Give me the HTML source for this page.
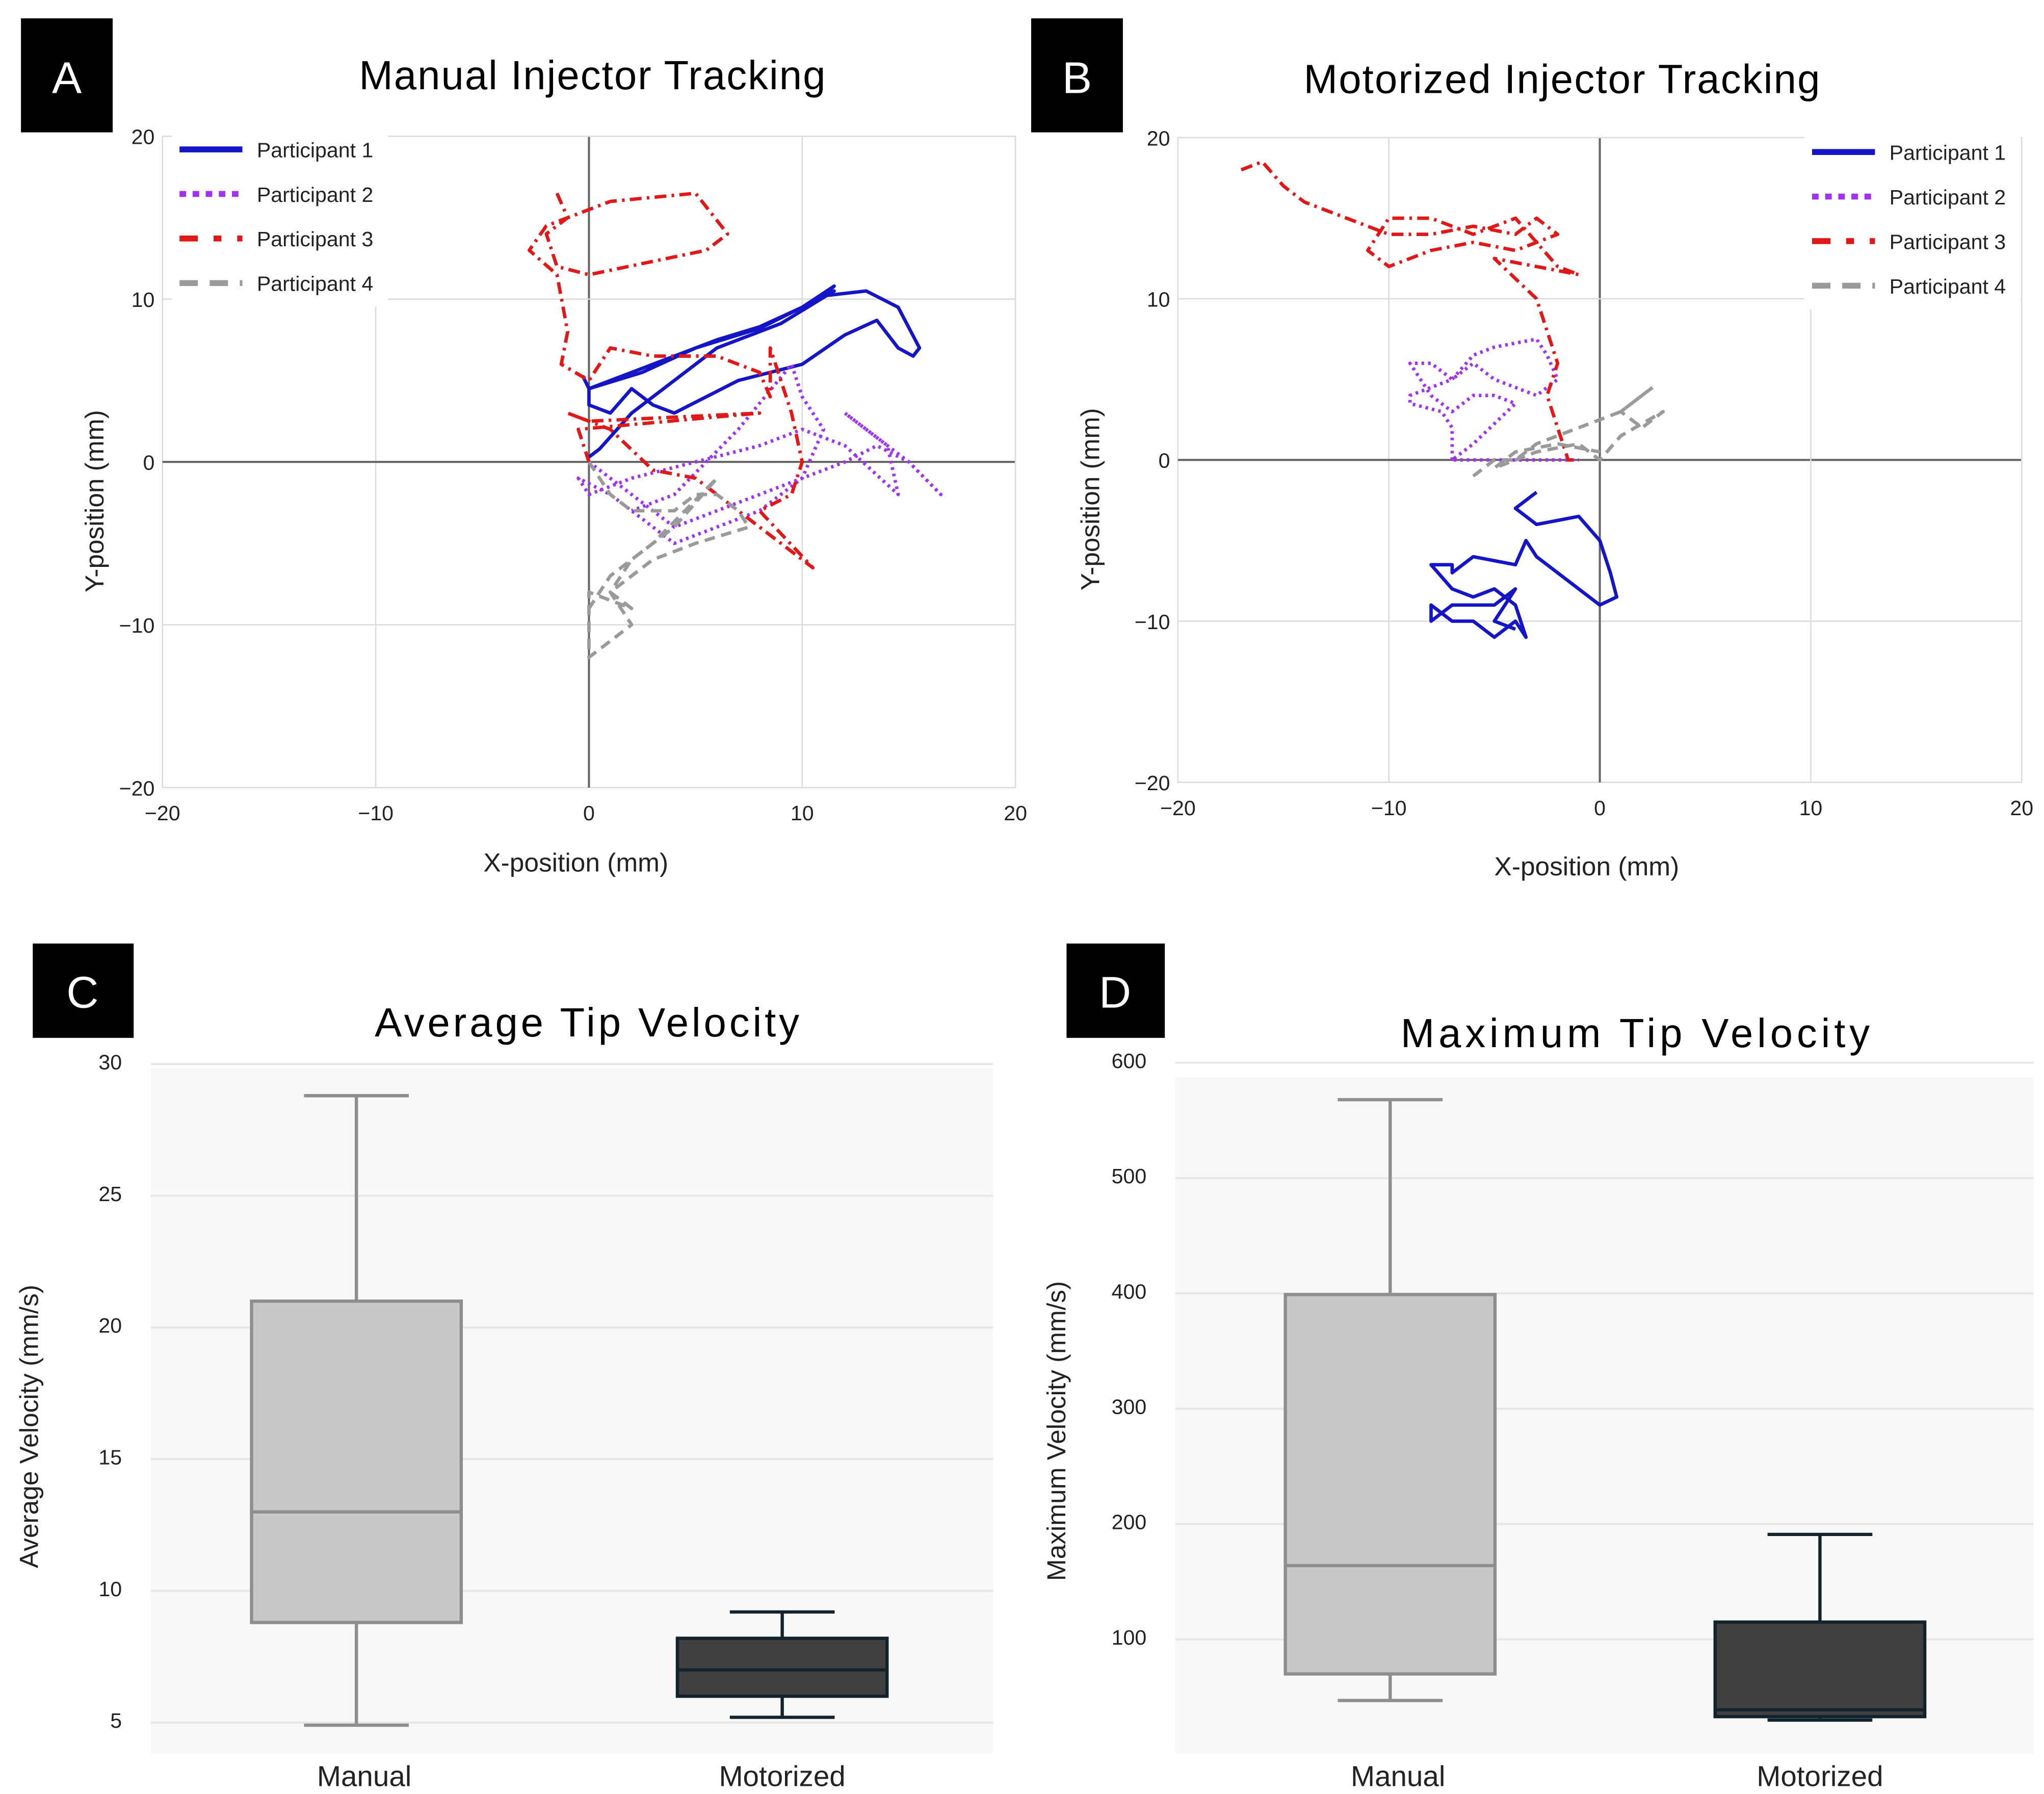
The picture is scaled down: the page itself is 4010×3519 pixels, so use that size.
<!DOCTYPE html>
<html><head><meta charset="utf-8"><style>
html,body{margin:0;padding:0;background:#fff}
svg{display:block}
text{font-family:"Liberation Sans",sans-serif}
</style></head><body>
<svg id="fig" width="4010" height="3519" viewBox="0 0 1560 1369" xmlns="http://www.w3.org/2000/svg">
<rect x="0" y="0" width="1560" height="1369" fill="#fff"/>
<!-- Panel labels -->
<g><rect x="16" y="14" width="70" height="87" fill="#000"/><text x="51" y="71" font-size="34" fill="#fff" text-anchor="middle">A</text></g>
<g><rect x="787" y="14" width="70" height="87" fill="#000"/><text x="822" y="71" font-size="34" fill="#fff" text-anchor="middle">B</text></g>
<g><rect x="25" y="720" width="77" height="72" fill="#000"/><text x="63" y="769" font-size="34" fill="#fff" text-anchor="middle">C</text></g>
<g><rect x="814" y="720" width="75" height="72" fill="#000"/><text x="851" y="769" font-size="34" fill="#fff" text-anchor="middle">D</text></g>
<text x="452" y="68" font-size="31" text-anchor="middle" textLength="356">Manual Injector Tracking</text>
<text x="1192" y="71" font-size="31" text-anchor="middle" textLength="394">Motorized Injector Tracking</text>
<text x="448" y="791" font-size="31" text-anchor="middle" textLength="324">Average Tip Velocity</text>
<text x="1248" y="799" font-size="31" text-anchor="middle" textLength="358">Maximum Tip Velocity</text>
<g id="A"></g><g id="B"></g><g id="C"></g><g id="D"></g>
</svg>
<script>
// ---- Trajectory data (mm) ----
const ticksXY = [-20,-10,0,10,20];
const legendLabels = ["Participant 1","Participant 2","Participant 3","Participant 4"];
const A_p1 = [[-0.3,5.3],[0,4.5],[2.5,5.5],[5,7],[8,8.2],[10,9.5],[11.5,10.8],[11,10.2],[13,10.5],[14.5,9.5],[15.5,7],[15.2,6.5],[14.5,7],[13.5,8.7],[12,7.8],[10,6],[7,5],[4,3],[3,3.5],[2,4.5],[1,3],[0,3.5],[0,4.5],[3,6],[6,7.5],[8,8.3],[10,9.5],[11.5,10.5],[9,8.5],[6,7],[4,5],[2,3],[0.5,0.8],[0,0.3]];
const A_p2 = [[0,0],[1,-1],[2,-2],[3,-3],[4,-4],[6,-3],[8,-2],[10,-1],[12,0],[13.5,1],[15,0],[16.5,-2],[15,0],[13,2],[12,3],[14,1],[14.5,-2],[12,1],[10,2],[8,1],[5,0],[2,-1],[0,-2],[-0.5,-1],[1,-2],[4,-5],[8,-3],[10,-1],[11,2],[10,4],[9.5,6],[7,2],[4,-2],[2,-3]];
const A_p3 = [[-1.5,16.5],[-1,15],[-2,14],[-1.5,12],[0,11.5],[5.5,13],[6.5,14],[5,16.5],[1,16],[-2,14.5],[-2.8,13],[-1.5,11.5],[-1,8],[-1.3,6],[0,5],[1,7],[3,6.5],[6,6.5],[8,5.5],[8.5,4],[8.5,7],[9.5,3],[10,0],[9.5,-2],[8,-3],[10.5,-6.5],[5,-1],[3,-0.5],[1,2],[-1,3],[0,2.5],[8,3],[-0.5,2],[0,0]];
const A_p4 = [[0,0],[1,-2],[2,-3],[4,-3],[5,-2],[6,-2],[7,-3],[7.5,-4],[5,-5],[3,-6],[2,-7],[1,-8],[2,-9],[0,-8],[0,-10],[0,-12],[1,-11],[2,-10],[1,-8],[2,-6],[4,-4],[6,-1],[3,-5],[1,-7],[0,-9]];
const B_p1 = [[-3,-2],[-4,-3],[-3,-4],[-1,-3.5],[0,-5],[0.5,-7],[0.8,-8.5],[0,-9],[-1,-8],[-2,-7],[-3,-6],[-3.5,-5],[-4,-6.5],[-6,-6],[-7,-7],[-7,-6.5],[-8,-6.5],[-7,-8],[-6,-8.5],[-5,-8],[-4,-9],[-3.5,-11],[-4,-10],[-5,-11],[-6,-10],[-7,-10],[-8,-9],[-8,-10],[-7,-9],[-5,-9],[-4,-8],[-5,-10],[-4,-10.5]];
const B_p2 = [[-7,0],[-7,2],[-7.5,3],[-9,3.5],[-9,4],[-8,4.5],[-7,5],[-6,6.5],[-5,7],[-3,7.5],[-2.5,6.5],[-2,5],[-3,4],[-5,5],[-6,6],[-7,5],[-8,6],[-9,6],[-8,4],[-7,3],[-6,4],[-5,4],[-4,3.5],[-6,1],[-7,0],[-5,0],[-3,0],[-1,0]];
const B_p3 = [[-17,18],[-16,18.5],[-15,17],[-14,16],[-12,15],[-10,14],[-8,14],[-6,14.5],[-4,14],[-3,15],[-2,14],[-4,13],[-6,13.5],[-8,13],[-10,12],[-11,13],[-10,15],[-8,15],[-6,14],[-4,15],[-2,12],[-1,11.5],[-3,12],[-5,12.5],[-3,10],[-2.5,8],[-2,6],[-2.5,4],[-2,2],[-1.5,0],[-1,0]];
const B_p4 = [[-6,-1],[-5,0],[-4,0],[-3,1],[-2,1.5],[-1,2],[0,2.5],[1,3],[2,4],[2.5,4.5],[1,3],[2,2],[3,3],[1,1.5],[0,0],[-1,1],[-3,0.5],[-5,-0.5],[-4,0.5],[-2,1],[0,0.5]];
// ---- Box plot data ----
const boxCats = ["Manual","Motorized"];
const C_min=[4.9,5.2], C_q1=[8.8,6.0], C_med=[13.0,7.0], C_q3=[21.0,8.2], C_max=[28.8,9.2];
const C_ticks=[5,10,15,20,25,30];
const D_min=[47,30], D_q1=[70,33], D_med=[164,39], D_q3=[399,115], D_max=[568,191];
const D_ticks=[100,200,300,400,500,600];

const NS="http://www.w3.org/2000/svg";
function mk(parent,tag,attrs,txt){const e=document.createElementNS(NS,tag);for(const k in attrs)e.setAttribute(k,attrs[k]);if(txt!==undefined)e.textContent=txt;parent.appendChild(e);return e;}
const styles=[{c:"#1515c8",w:2.6,d:""},{c:"#a033f0",w:2.6,d:"2 3"},{c:"#e01818",w:2.6,d:"9 4 2 4"},{c:"#9a9a9a",w:2.6,d:"8 5"}];
const lstyles=[{d:""},{d:"5 5"},{d:"14 12 6 12"},{d:"14 9"}];

function scatterPanel(g,L,R,T,Bt,series,legX,legY,xLabelY,yLabelX,pre){
  const sx=v=>L+(v+20)/40*(R-L), sy=v=>Bt-(v+20)/40*(Bt-T);
  const bg=mk(g,"rect",{x:L,y:T,width:R-L,height:Bt-T,fill:"#fff",stroke:"#e2e2e2","stroke-width":1});
  
  
  ticksXY.forEach(t=>{
    const gx=mk(g,"line",{x1:sx(t),x2:sx(t),y1:T,y2:Bt,stroke:t===0?"#666":"#dcdcdc","stroke-width":t===0?1.6:1});
    
    
    const gy=mk(g,"line",{x1:L,x2:R,y1:sy(t),y2:sy(t),stroke:t===0?"#666":"#dcdcdc","stroke-width":t===0?1.6:1});
    
    
    const lab=t<0?"\u2212"+(-t):String(t);
    const tx=mk(g,"text",{x:sx(t),y:Bt+25,"font-size":16,"text-anchor":"middle",fill:"#222"},lab);
    
    
    const ty=mk(g,"text",{x:L-6,y:sy(t)+6,"font-size":16,"text-anchor":"end",fill:"#222"},lab);
    
    
  });
  series.forEach((s,i)=>{
    const st=styles[i];
    const p=mk(g,"polyline",{points:s.map(q=>sx(q[0])+","+sy(q[1])).join(" "),fill:"none",stroke:st.c,"stroke-width":st.w,"stroke-dasharray":st.d,"stroke-linejoin":"round"});
    
    
  });
  // legend
  const lg=mk(g,"g",{});
  
  
  mk(lg,"rect",{x:legX-6,y:legY-16,width:165,height:136,fill:"#fff"});
  legendLabels.forEach((lab,i)=>{
    const y=legY+i*34;
    const e=mk(lg,"g",{});
    
    
    mk(e,"line",{x1:legX,x2:legX+48,y1:y,y2:y,stroke:styles[i].c,"stroke-width":4.5,"stroke-dasharray":lstyles[i].d});
    mk(e,"text",{x:legX+59,y:y+6,"font-size":16,fill:"#222"},lab);
  });
  const xl=mk(g,"text",{x:(L+R)/2-10,y:xLabelY,"font-size":20,"text-anchor":"middle",fill:"#222"},"X-position (mm)");
  
  
  const yc=(T+Bt)/2+30;
  const yl=mk(g,"text",{x:yLabelX,y:yc,"font-size":20,"text-anchor":"middle",fill:"#222",transform:`rotate(-90 ${yLabelX} ${yc})`},"Y-position (mm)");
  
  
}
scatterPanel(document.getElementById("A"),124,775,104,601,[A_p1,A_p2,A_p3,A_p4],137,114,665,79,"a-");
scatterPanel(document.getElementById("B"),899,1543,105,597,[B_p1,B_p2,B_p3,B_p4],1383,116,668,839,"b-");

function boxPanel(g,L,R,T,Bt,y0,pxPer,vTop,ticks,mins,q1,med,q3,maxs,centers,half,ylabel,ylx,pre){
  const sy=v=>y0-(v-vTop)*pxPer;
  const bg=mk(g,"rect",{x:L,y:T,width:R-L,height:Bt-T,fill:"#f8f8f8"});
  
  
  ticks.forEach(t=>{
    const gl=mk(g,"line",{x1:L,x2:R,y1:sy(t),y2:sy(t),stroke:"#e6e6e6","stroke-width":1.5});
    
    
    const tl=mk(g,"text",{x:L-22,y:sy(t)+4,"font-size":16,"text-anchor":"end",fill:"#222"},String(t));
    
    
  });
  boxCats.forEach((c,i)=>{
    const cx=centers[i];
    const light=i===0;
    const stroke=light?"#8e8e8e":"#13232c", fill=light?"#c8c8c8":"#404040";
    const b=mk(g,"g",{});
    
    
    mk(b,"line",{x1:cx,x2:cx,y1:sy(maxs[i]),y2:sy(q3[i]),stroke:stroke,"stroke-width":2.5});
    mk(b,"line",{x1:cx,x2:cx,y1:sy(q1[i]),y2:sy(mins[i]),stroke:stroke,"stroke-width":2.5});
    mk(b,"line",{x1:cx-40,x2:cx+40,y1:sy(maxs[i]),y2:sy(maxs[i]),stroke:stroke,"stroke-width":2.5});
    mk(b,"line",{x1:cx-40,x2:cx+40,y1:sy(mins[i]),y2:sy(mins[i]),stroke:stroke,"stroke-width":2.5});
    mk(b,"rect",{x:cx-half,y:sy(q3[i]),width:2*half,height:sy(q1[i])-sy(q3[i]),fill:fill,stroke:stroke,"stroke-width":2.5});
    mk(b,"line",{x1:cx-half,x2:cx+half,y1:sy(med[i]),y2:sy(med[i]),stroke:stroke,"stroke-width":2.5});
    const xl=mk(g,"text",{x:cx+(i===0?6:0),y:Bt+25,"font-size":22,"text-anchor":"middle",fill:"#222"},c);
    
    
  });
  const yc=(T+Bt)/2+12;
  const yl=mk(g,"text",{x:ylx,y:yc,"font-size":20,"text-anchor":"middle",fill:"#222",transform:`rotate(-90 ${ylx} ${yc})`},ylabel);
  
  
}
boxPanel(document.getElementById("C"),115,758,815,1338,812,20.1,30,C_ticks,C_min,C_q1,C_med,C_q3,C_max,[272,597],80,"Average Velocity (mm/s)",29,"c-");
boxPanel(document.getElementById("D"),897,1552,822,1338,1339,0.88,0,D_ticks,D_min,D_q1,D_med,D_q3,D_max,[1061,1389],80,"Maximum Velocity (mm/s)",813,"d-");
</script>
</body></html>
